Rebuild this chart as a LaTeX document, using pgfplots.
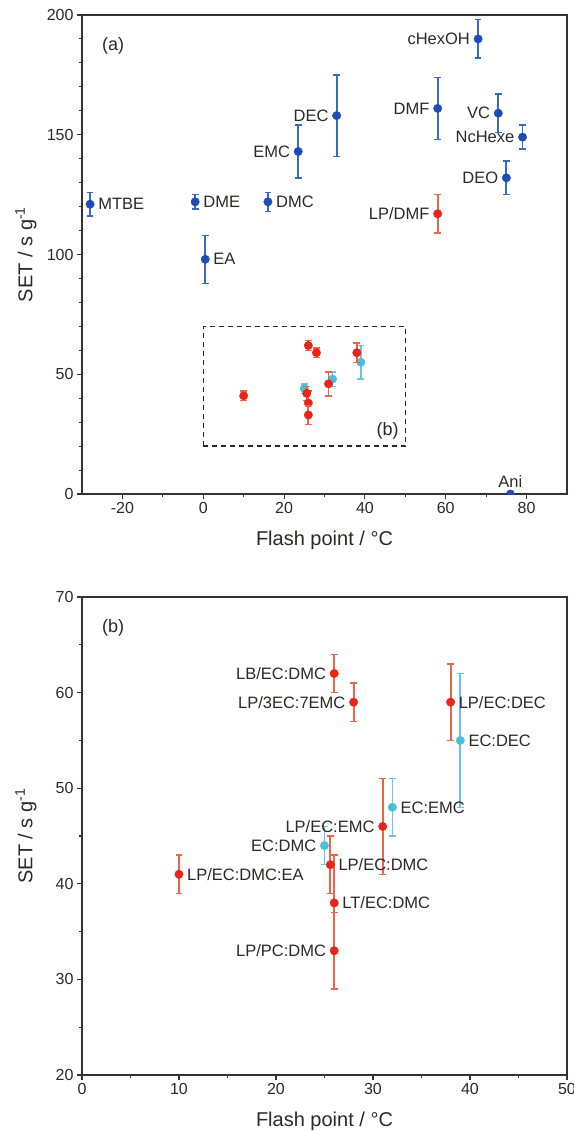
\documentclass[border=0pt]{standalone}
\usepackage{fontspec}
\setmainfont{Liberation Sans}
\usepackage{pgfplots}
\usepackage{pgfplotstable}
\pgfplotsset{compat=1.18}

\definecolor{blueM}{RGB}{30,75,180}
\definecolor{blueB}{RGB}{55,105,200}
\definecolor{redM}{RGB}{235,35,25}
\definecolor{redB}{RGB}{240,100,70}
\definecolor{cyanM}{RGB}{75,190,220}
\definecolor{cyanB}{RGB}{100,200,222}
\definecolor{axgray}{RGB}{55,50,50}
\definecolor{txt}{RGB}{45,40,40}

% x = flash point, y = SET, e = error; W/E = label right/left of the point
\pgfplotstableread{
x y e label
-28 121 5 MTBE
-2 122 3 DME
16 122 4 DMC
0.5 98 10 EA
}\blueW
\pgfplotstableread{
x y e label
23.5 143 11 EMC
33 158 17 DEC
58 161 13 DMF
68 190 8 cHexOH
73 159 8 VC
79 149 5 NcHexe
75 132 7 DEO
}\blueE

\pgfplotstableread{
x y e label
58 117 8 LP/DMF
}\lpdmf

\pgfplotstableread{
x y e label
38 59 4 LP/EC:DEC
25.6 42 3 LP/EC:DMC
26 38 5 LT/EC:DMC
10 41 2 LP/EC:DMC:EA
}\redW
\pgfplotstableread{
x y e label
26 62 2 LB/EC:DMC
28 59 2 LP/3EC:7EMC
31 46 5 LP/EC:EMC
26 33 4 LP/PC:DMC
}\redE

\pgfplotstableread{
x y e label
39 55 7 EC:DEC
32 48 3 EC:EMC
}\cyanW
\pgfplotstableread{
x y e label
25 44 2 EC:DMC
}\cyanE

\pgfplotsset{
  panel/.style={scale only axis, width=485pt,
    axis line style={line width=1.5pt, draw=axgray},
    tick style={line width=1.1pt, draw=axgray},
    tick align=outside, xtick pos=left, ytick pos=left,
    major tick length=5pt, minor tick length=3pt,
    tick label style={font=\fontsize{16}{16}\selectfont, text=txt},
    /pgf/number format/assume math mode=true,
    label style={font=\fontsize{20}{22}\selectfont, text=txt},
    xlabel={Flash point / °C},
    ylabel={SET / s g\textsuperscript{-1}},
    xlabel style={at={(axis description cs:0.5,0)}, anchor=base, yshift=-51pt},
    ylabel style={at={(axis description cs:-0.1155,0.5)}, anchor=center, rotate=0},
    clip marker paths=true,
  },
  errpts/.style 2 args={only marks, mark=*, mark size=4.2pt,
    color=#1, mark options={draw=#1, fill=#1},
    error bars/y dir=both, error bars/y explicit,
    error bars/error bar style={line width=1.8pt, draw=#2},
    error bars/error mark options={rotate=90, mark size=3.4pt, line width=1.4pt, draw=#2}},
  lbl/.style={only marks, mark=none, nodes near coords, point meta=explicit symbolic,
    every node near coord/.append style={anchor=#1,
      font=\fontsize{16.5}{18}\selectfont, text=txt,
      inner xsep=8pt, inner ysep=5pt}},
}

\begin{document}
\begin{tikzpicture}[x=1pt,y=1pt]
\useasboundingbox (0,0) rectangle (573,-1131);

% (a) all solvents
\begin{axis}[panel, at={(82pt,-494pt)}, anchor=south west, height=479pt,
  xmin=-30, xmax=90, ymin=0, ymax=200,
  xtick={-20,0,...,80}, ytick={0,50,...,200},
  minor x tick num=1, minor y tick num=4]
 \draw[dashed, dash pattern=on 5pt off 4pt, line width=1.5pt, black!85]
   (axis cs:0,20) rectangle (axis cs:50,70);
 \node[font=\fontsize{18}{20}\selectfont, text=txt] at (axis cs:45.6,26.5) {(b)};
 \node[font=\fontsize{18}{20}\selectfont, text=txt] at (axis cs:-22.3,187.3) {(a)};
 \addplot[errpts={blueM}{blueB}] table[x=x, y=y, y error=e] {\blueW};
 \addplot[errpts={blueM}{blueB}] table[x=x, y=y, y error=e] {\blueE};
 \addplot[errpts={redM}{redB}] table[x=x, y=y, y error=e] {\lpdmf};
 \addplot[errpts={cyanM}{cyanB}] table[x=x, y=y, y error=e] {\cyanW};
 \addplot[errpts={cyanM}{cyanB}] table[x=x, y=y, y error=e] {\cyanE};
 \addplot[errpts={redM}{redB}] table[x=x, y=y, y error=e] {\redW};
 \addplot[errpts={redM}{redB}] table[x=x, y=y, y error=e] {\redE};
 \addplot[lbl=west] table[x=x, y=y, meta=label] {\blueW};
 \addplot[lbl=east] table[x=x, y=y, meta=label] {\blueE};
 \addplot[lbl=east] table[x=x, y=y, meta=label] {\lpdmf};
 \addplot[only marks, mark=*, mark size=4.2pt, color=blueM,
   nodes near coords={Ani},
   every node near coord/.append style={anchor=south, font=\fontsize{16.5}{18}\selectfont,
     text=txt, inner sep=6pt}]
   coordinates {(76,0)};
\end{axis}

% (b) electrolytes, zoomed
\begin{axis}[panel, at={(82pt,-1075pt)}, anchor=south west, height=478pt,
  xmin=0, xmax=50, ymin=20, ymax=70,
  xtick={0,10,...,50}, ytick={20,30,...,70},
  minor x tick num=1, minor y tick num=1]
 \node[font=\fontsize{18}{20}\selectfont, text=txt] at (axis cs:3.2,66.8) {(b)};
 \addplot[errpts={cyanM}{cyanB}] table[x=x, y=y, y error=e] {\cyanW};
 \addplot[errpts={cyanM}{cyanB}] table[x=x, y=y, y error=e] {\cyanE};
 \addplot[errpts={redM}{redB}] table[x=x, y=y, y error=e] {\redW};
 \addplot[errpts={redM}{redB}] table[x=x, y=y, y error=e] {\redE};
 \addplot[lbl=west] table[x=x, y=y, meta=label] {\cyanW};
 \addplot[lbl=east] table[x=x, y=y, meta=label] {\cyanE};
 \addplot[lbl=west] table[x=x, y=y, meta=label] {\redW};
 \addplot[lbl=east] table[x=x, y=y, meta=label] {\redE};
\end{axis}
\end{tikzpicture}
\end{document}
